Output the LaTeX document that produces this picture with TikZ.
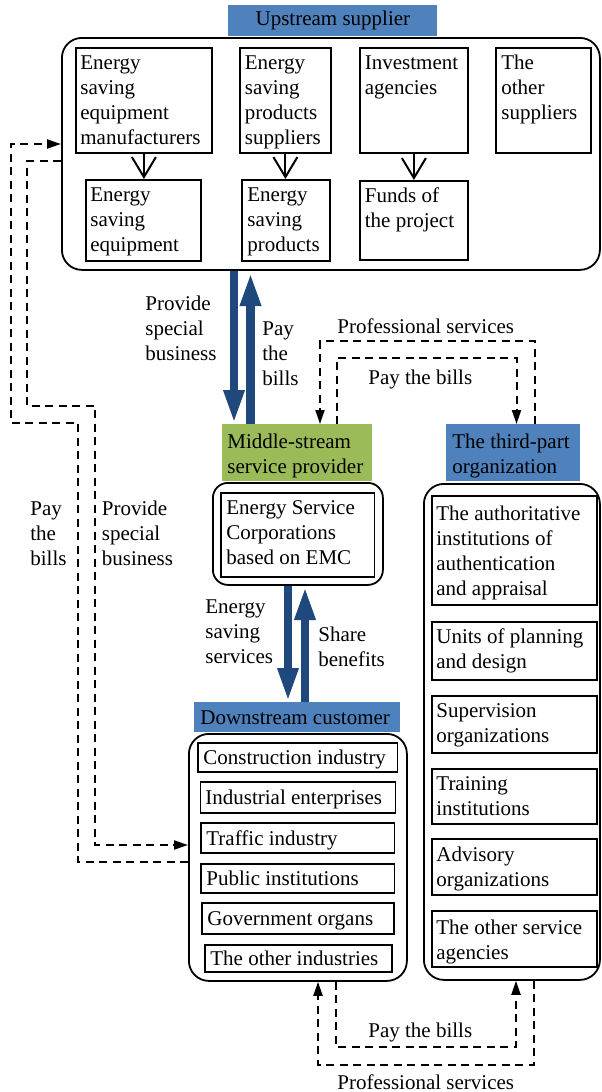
\documentclass[tikz,border=0pt]{standalone}
\usepackage{fontspec}
\setmainfont{Liberation Serif}
\usetikzlibrary{arrows.meta}
\definecolor{hblue}{HTML}{4F81BD}
\definecolor{hgreen}{HTML}{9BBB59}
\definecolor{abl}{HTML}{1F497D}
% style, name, x, y, w, h, dx, dy, text  (all in px units)
\newcommand\mybox[9]{%
  \node[#1, anchor=north west, minimum width=#5*0.5pt, minimum height=#6*0.5pt] (#2) at (#3,#4) {};
  \node[txt, anchor=north west] (#2-t) at ([shift={(#7,#8)}]#2.north west) {\strut #9};
}
\begin{document}
\begin{tikzpicture}[x=0.5pt,y=-0.5pt,
  txt/.style={font=\fontsize{10.5}{12.5}\selectfont, align=left, inner sep=0pt},
  box/.style={draw, line width=0.9pt, inner sep=0pt},
  cont/.style={draw, line width=0.9pt, rounded corners=10pt, inner sep=0pt},
  contm/.style={draw, line width=0.9pt, rounded corners=7.5pt, inner sep=0pt},
  hdrb/.style={fill=hblue, inner sep=0pt},
  hdrg/.style={fill=hgreen, inner sep=0pt},
  big/.style={abl, line width=4.25pt, -{Triangle[length=17pt,width=9.5pt]}},
  dsh/.style={line width=1pt, dash pattern=on 4pt off 2.75pt, -{Triangle[length=7pt,width=4.5pt]}},
  vee/.style={line width=1pt, -{Straight Barb[length=10pt,width=12pt]}}
]
\useasboundingbox (0,0) rectangle (601,1092);

% ---------- Upstream ----------
\node[cont, anchor=north west, minimum width=269pt, minimum height=116pt] (up) at (61,37) {};
\node[hdrb, anchor=north west, minimum width=104.5pt, minimum height=15.5pt, txt] (uph) at (228,5) {Upstream supplier};

\mybox{box}{a1}{75}{47}{136}{105}{5}{5}{Energy\\saving\\equipment\\manufacturers}
\mybox{box}{a2}{239}{47}{91}{105}{5.5}{5}{Energy\\saving\\products\\suppliers}
\mybox{box}{a3}{359}{47}{108}{105}{5.5}{5}{Investment\\agencies}
\mybox{box}{a4}{495}{47}{95}{105}{6}{5}{The\\other\\suppliers}
\mybox{box}{b1}{85}{179}{115}{81}{5}{5}{Energy\\saving\\equipment}
\mybox{box}{b2}{241}{179}{88}{81}{6}{5}{Energy\\saving\\products}
\mybox{box}{b3}{359}{180}{108}{79}{5.5}{5}{Funds of\\the project}

\draw[vee] (a1.south) -- (a1.south |- b1.north);
\draw[vee] (a2.south) -- (a2.south |- b2.north);
\draw[vee] (a3.south) -- (a3.south |- b3.north);

% ---------- Middle-stream ----------
\node[hdrg, anchor=north west, minimum width=75.25pt, minimum height=28.5pt] (midh) at (221.5,424) {};
\node[txt, anchor=north west] (midh-t) at ([shift={(5.5,7)}]midh.north west) {\strut Middle-stream\\service provider};
\node[contm, anchor=north west, minimum width=85pt, minimum height=51pt] (mid) at (212,482) {};
\mybox{box}{emc}{220}{492}{153.5}{84}{6}{4.5}{Energy Service\\Corporations\\based on EMC}

% ---------- Third-part ----------
\node[hdrb, anchor=north west, minimum width=67pt, minimum height=28.5pt] (thh) at (446,424) {};
\node[txt, anchor=north west] (thh-t) at ([shift={(6,7)}]thh.north west) {\strut The third-part\\organization};
\node[cont, anchor=north west, minimum width=88pt, minimum height=248pt] (th) at (423,483) {};
\mybox{box}{t1}{431}{495}{165}{109}{5}{7.5}{The authoritative\\institutions of\\authentication\\and appraisal}
\mybox{box}{t2}{431}{621}{165}{58}{5}{4.5}{Units of planning\\and design}
\mybox{box}{t3}{431}{695}{165}{57}{5}{5}{Supervision\\organizations}
\mybox{box}{t4}{431}{768}{165}{55}{5}{5}{Training\\institutions}
\mybox{box}{t5}{431}{838}{165}{56}{5}{6}{Advisory\\organizations}
\mybox{box}{t6}{431}{910}{165}{56}{5}{7}{The other service\\agencies}

% ---------- Downstream ----------
\node[hdrb, anchor=north west, minimum width=103pt, minimum height=15pt] (dnh) at (194,702) {};
\node[txt, anchor=north west] (dnh-t) at ([shift={(6,4.5)}]dnh.north west) {\strut Downstream customer};
\node[cont, anchor=north west, minimum width=109pt, minimum height=123.5pt] (dn) at (188,733) {};
\mybox{box}{d1}{197}{742}{199.5}{29}{6}{5}{Construction industry}
\mybox{box}{d2}{199.5}{781}{195}{31}{5.5}{5.5}{Industrial enterprises}
\mybox{box}{d3}{200}{822}{193.5}{30}{6}{5.5}{Traffic industry}
\mybox{box}{d4}{200}{863}{193.5}{29}{6}{5}{Public institutions}
\mybox{box}{d5}{201}{902}{192}{31}{6}{5.5}{Government organs}
\mybox{box}{d6}{204}{944}{187}{27}{6}{4}{The other industries}

% ---------- Big blue arrows ----------
\draw[big] (up.south -| 234,0) -- (midh.north -| 234,0);
\draw[big] (midh.north -| 250.5,0) -- (250.5,272);
\draw[big] (mid.south -| 288,0) -- (dnh.north -| 288,0);
\draw[big] (dnh.north -| 305,0) -- (305,586);

\node[txt, anchor=north west] (lpsb1) at (145,292.5) {\strut Provide\\special\\business};
\node[txt, anchor=north west] (lptb1) at (262,317.5) {\strut Pay\\the\\bills};
\node[txt, anchor=north west] (less) at (205,596) {\strut Energy\\saving\\services};
\node[txt, anchor=north west] (lsb) at (318,624) {\strut Share\\benefits};

% ---------- Dashed connectors ----------
% left: pay the bills (downstream -> upstream)
\draw[dsh] (dn.west |- 0,862) -- (78,862) -- (78,423) -- (11,423) -- (11,144) -- (up.west |- 0,144);
% left: provide special business (upstream -> downstream)
\draw[dsh] (up.west |- 0,161) -- (27,161) -- (27,406) -- (95,406) -- (95,845) -- (dn.west |- 0,845);
\node[txt, anchor=north west] (lptb2) at (30,497.5) {\strut Pay\\the\\bills};
\node[txt, anchor=north west] (lpsb2) at (101.5,497.5) {\strut Provide\\special\\business};

% top: third <-> middle
\draw[dsh] (thh.north -| 534.5,0) -- (534.5,341) -- (320,341) -- (midh.north -| 320,0);
\draw[dsh] (midh.north -| 336.5,0) -- (336.5,358) -- (516.5,358) -- (thh.north -| 516.5,0);
\node[txt, anchor=base west] (lps1) at (337,333) {Professional services};
\node[txt, anchor=base west] (lptb3) at (368,384) {Pay the bills};

% bottom: downstream <-> third
\draw[dsh] (dn.south -| 336,0) -- (336,1047) -- (516,1047) -- (th.south -| 516,0);
\draw[dsh] (th.south -| 533.5,0) -- (533.5,1065) -- (318,1065) -- (dn.south -| 318,0);
\node[txt, anchor=base west] (lptb4) at (368,1037) {Pay the bills};
\node[txt, anchor=base west] (lps2) at (337,1089) {Professional services};
\end{tikzpicture}
\end{document}
